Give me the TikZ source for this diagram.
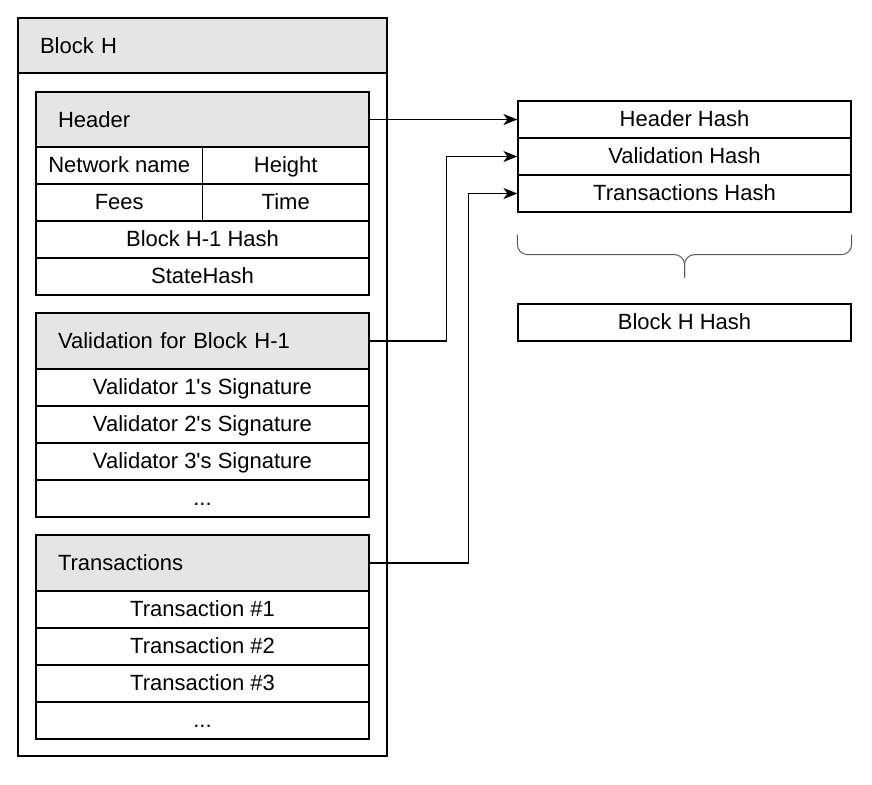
\documentclass[tikz,border=0pt]{standalone}
\usepackage{fontspec}
\setmainfont{Liberation Sans}
\usetikzlibrary{arrows.meta}
\begin{document}
\begin{tikzpicture}[x=1pt,y=-1pt,line width=1.2pt,
  font=\fontsize{22}{26}\selectfont,
  cell/.style={draw, rectangle, inner sep=0pt, minimum height=37pt, minimum width=333pt, text height=16pt, text depth=3pt},
  half/.style={cell, minimum width=166.5pt},
  title/.style={draw, rectangle, fill=black!10, inner xsep=22pt, inner ysep=0pt, minimum height=55pt, text width=289pt, align=left},
  arw/.style={-{Stealth[length=14pt,width=11pt,inset=4pt]}, line width=1.2pt},
  brc/.style={line width=1pt, black!65, rounded corners=10pt}]
\useasboundingbox (0,0) rectangle (872,784);
% block H
\node[draw, rectangle, minimum width=369pt, minimum height=738pt] (blk) at (202.5,387){};
\node[title, text width=325pt, minimum height=55pt] (blkt) at (202.5,45.5){Block H};
% header
\node[title] (hdr) at (202.5,119.5){Header};
\node[half] (hnet) at (119.25,165.5){Network name};
\node[half] (hhgt) at (285.75,165.5){Height};
\node[half] (hfee) at (119.25,202.5){Fees};
\node[half] (htim) at (285.75,202.5){Time};
\node[cell] (hprv) at (202.5,239.5){Block H-1 Hash};
\node[cell] (hsta) at (202.5,276.5){StateHash};
% validation
\node[title, minimum height=56pt] (val) at (202.5,341){Validation for Block H-1};
\node[cell] (val1) at (202.5,387.5){Validator 1\textquotesingle s Signature};
\node[cell] (val2) at (202.5,424.5){Validator 2\textquotesingle s Signature};
\node[cell] (val3) at (202.5,461.5){Validator 3\textquotesingle s Signature};
\node[cell] (val4) at (202.5,498.5){...};
% transactions
\node[title, minimum height=56pt] (tx) at (202.5,563){Transactions};
\node[cell] (tx1) at (202.5,609.5){Transaction \#1};
\node[cell] (tx2) at (202.5,646.5){Transaction \#2};
\node[cell] (tx3) at (202.5,683.5){Transaction \#3};
\node[cell] (tx4) at (202.5,720.5){...};
% hashes
\node[cell] (hhash) at (684.5,119.5){Header Hash};
\node[cell] (vhash) at (684.5,156.5){Validation Hash};
\node[cell] (thash) at (684.5,193.5){Transactions Hash};
\node[cell] (bhash) at (684.5,322.5){Block H Hash};
\draw[brc]([yshift=-22pt]thash.south west) -- ([yshift=-42pt]thash.south west) -- ([yshift=-42pt]thash.south) -- ([yshift=-65pt]thash.south);
\draw[brc]([yshift=-22pt]thash.south east) -- ([yshift=-42pt]thash.south east) -- ([yshift=-42pt]thash.south) -- ([yshift=-65pt]thash.south);
\draw[arw](hdr.east) -- (hhash.west);
\draw[arw](val.east) -- ++(77pt,0) |- (vhash.west);
\draw[arw](tx.east) -- ++(99pt,0) |- (thash.west);
\end{tikzpicture}
\end{document}
